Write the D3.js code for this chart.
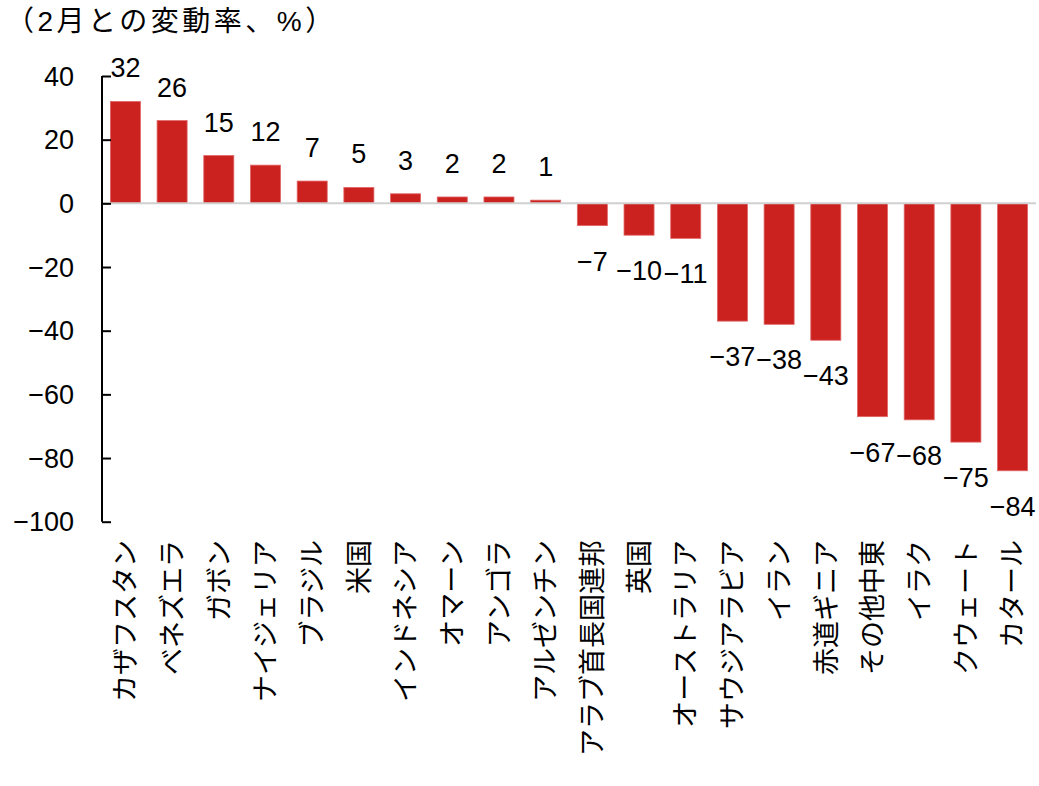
<!DOCTYPE html>
<html>
<head>
<meta charset="utf-8">
<script src="https://cdn.jsdelivr.net/npm/d3@7"></script>
<style>
  body { margin: 0; background: #fff; }
  text { font-family: "Liberation Sans", "Noto Sans CJK JP", sans-serif; fill: #000; }
</style>
</head>
<body>
<svg id="chart" width="1039" height="786"></svg>
<script>
// categories and values (% change vs Feb)
const countries = ['カザフスタン', 'ベネズエラ', 'ガボン', 'ナイジェリア', 'ブラジル', '米国',
  'インドネシア', 'オマーン', 'アンゴラ', 'アルゼンチン', 'アラブ首長国連邦', '英国',
  'オーストラリア', 'サウジアラビア', 'イラン', '赤道ギニア', 'その他中東', 'イラク',
  'クウェート', 'カタール'];
const changes = [32, 26, 15, 12, 7, 5, 3, 2, 2, 1, -7, -10, -11, -37, -38, -43, -67, -68, -75, -84];
const yTicks = [40, 20, 0, -20, -40, -60, -80, -100];
const title = '（2月との変動率、%）';

const data = countries.map((c, i) => ({ name: c, value: changes[i] }));

const svg = d3.select('#chart');
const barColor = '#cb221f';

const x = d3.scaleBand()
  .domain(countries)
  .range([102, 1036])
  .paddingInner(0.357)
  .paddingOuter(0.18);

const y = d3.scaleLinear()
  .domain([-100, 40])
  .range([521.7, 76]);

var fmt = v => v < 0 ? '−' + Math.abs(v) : String(v);

// title
svg.append('text')
  .attr('x', 6)
  .attr('y', 31)
  .attr('font-size', 28)
  .attr('letter-spacing', 3.5)
  .attr('font-family', '"Noto Sans CJK JP", sans-serif')
  .text(title);

// bars
svg.selectAll('.bar')
  .data(data)
  .enter()
  .append('rect')
  .attr('class', 'bar')
  .attr('x', d => x(d.name))
  .attr('width', x.bandwidth())
  .attr('y', d => y(Math.max(0, d.value)))
  .attr('height', d => Math.abs(y(d.value) - y(0)))
  .attr('fill', barColor)
  .attr('stroke', '#e06666')
  .attr('stroke-width', 0.8);

// zero line
svg.append('line')
  .attr('x1', 102).attr('x2', 1036)
  .attr('y1', y(0)).attr('y2', y(0))
  .attr('stroke', '#d0d0d0')
  .attr('stroke-width', 2);

// y axis, ticks pointing inward
const yAxis = d3.axisRight(y)
  .tickValues(yTicks)
  .tickSize(9)
  .tickFormat('');
const ya = svg.append('g')
  .attr('transform', 'translate(102,0)')
  .call(yAxis);
ya.select('.domain').attr('stroke', '#000').attr('stroke-width', 2)
  .attr('d', 'M0,' + y(40) + 'V' + y(-100));
ya.selectAll('.tick line').attr('stroke', '#000').attr('stroke-width', 2);

svg.selectAll('.ytick')
  .data(yTicks)
  .enter()
  .append('text')
  .attr('class', 'ytick')
  .attr('x', 74)
  .attr('y', d => y(d))
  .attr('dy', '0.36em')
  .attr('text-anchor', 'end')
  .attr('font-size', 27)
  .text(fmt);

// value labels
svg.selectAll('.vlabel')
  .data(data)
  .enter()
  .append('text')
  .attr('class', 'vlabel')
  .attr('x', d => x(d.name) + x.bandwidth() / 2)
  .attr('y', d => d.value >= 0 ? y(d.value) - 24 : y(d.value) + 45)
  .attr('text-anchor', 'middle')
  .attr('font-size', 27)
  .text(d => fmt(d.value));

// category labels (rotated)
svg.selectAll('.clabel')
  .data(data)
  .enter()
  .append('text')
  .attr('class', 'clabel')
  .attr('transform', d => 'translate(' + (x(d.name) + x.bandwidth() / 2) + ',540) rotate(-90)')
  .attr('dy', '0.36em')
  .attr('text-anchor', 'end')
  .attr('font-size', 27)
  .attr('font-family', '"Noto Sans CJK JP", sans-serif')
  .text(d => d.name);
</script>
</body>
</html>
